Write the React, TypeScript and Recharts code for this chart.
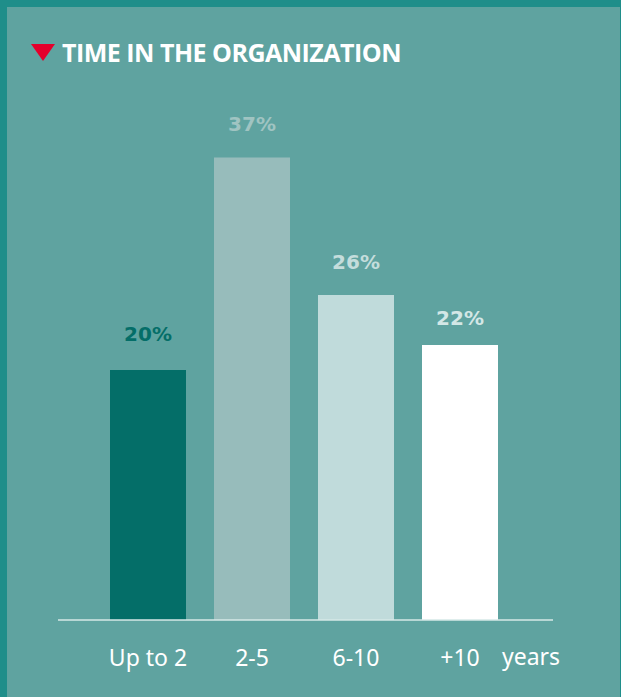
import React from "react";
import { BarChart, Bar, XAxis, YAxis, Cell, LabelList } from "recharts";

const categories = ["Up to 2", "2-5", "6-10", "+10"];
const shares = [20, 37, 26, 22];
const barColors = ["#046e68", "#97bcbb", "#c0dbdb", "#ffffff"];
const labelColors = ["#046e68", "#a0c4c2", "#c4dddc", "#d3e7e6"];
const labelGaps = [29, 27, 26, 20];
const yTicks = [0, 10, 20, 30, 40];

const data = categories.map((name, i) => ({ name, value: shares[i] }));

const ValueLabel = (props: any) => {
  const { x, y, width, value, index } = props;
  return (
    <text
      x={x + width / 2}
      y={y - labelGaps[index]}
      textAnchor="middle"
      fill={labelColors[index]}
      fontFamily="'DejaVu Sans', sans-serif"
      fontWeight="bold"
      fontSize={20}
    >
      {value}%
    </text>
  );
};

const App: React.FC = () => {
  return (
    <div
      style={{
        position: "absolute",
        left: 0,
        top: 0,
        width: 621,
        height: 697,
        background: "#5fa3a0",
        borderTop: "7px solid #1f8e8a",
        borderLeft: "7px solid #1f8e8a",
        borderRight: "1px solid #1f8e8a",
        boxSizing: "border-box",
        overflow: "hidden",
      }}
    >
      {/* Title */}
      <svg
        width={26}
        height={18}
        style={{ position: "absolute", left: 24, top: 37 }}
      >
        <polygon points="0,0 24,0 12,17" fill="#e4002b" />
      </svg>
      <div
        style={{
          position: "absolute",
          left: 55,
          top: 28,
          color: "#ffffff",
          fontFamily: "'Open Sans', sans-serif",
          fontWeight: 700,
          fontSize: 25,
          letterSpacing: -0.5,
          whiteSpace: "nowrap",
        }}
      >
        TIME IN THE ORGANIZATION
      </div>

      {/* Chart */}
      <div style={{ position: "absolute", left: -7, top: -7 }}>
        <BarChart
          width={621}
          height={697}
          data={data}
          margin={{ top: 120, right: 68, bottom: 47, left: 58 }}
        >
          <YAxis hide domain={[0, 40]} ticks={yTicks} />
          <XAxis
            dataKey="name"
            height={30}
            padding={{ left: 38, right: 41 }}
            axisLine={{ stroke: "#d6e9e7", strokeWidth: 1.5 }}
            tickLine={false}
            tickSize={0}
            tickMargin={30}
            tick={{
              fill: "#ffffff",
              fontSize: 23,
              fontFamily: "'Noto Sans', sans-serif",
            }}
          />
          <Bar dataKey="value" barSize={76} isAnimationActive={false}>
            {data.map((d, i) => (
              <Cell key={d.name} fill={barColors[i]} />
            ))}
            <LabelList dataKey="value" content={ValueLabel} />
          </Bar>
        </BarChart>
      </div>

      {/* Unit label */}
      <div
        style={{
          position: "absolute",
          left: 495,
          top: 633,
          color: "#ffffff",
          fontFamily: "'Noto Sans', sans-serif",
          fontSize: 23,
        }}
      >
        years
      </div>
    </div>
  );
};

export default App;
